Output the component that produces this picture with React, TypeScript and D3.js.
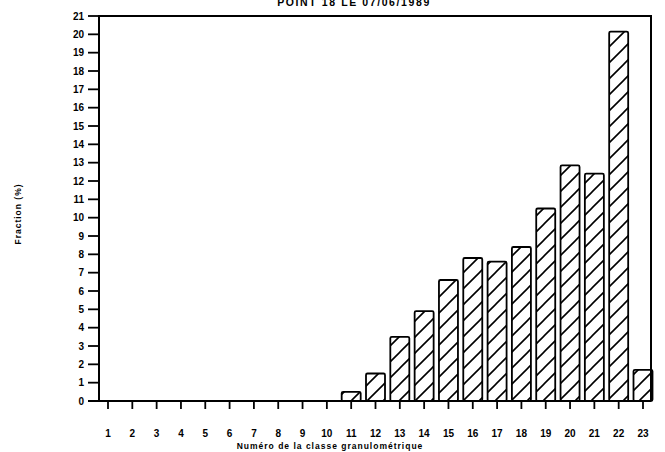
import React from "react";
import * as d3 from "d3";

// class numbers and measured fractions (%)
const classes = [1, 2, 3, 4, 5, 6, 7, 8, 9, 10, 11, 12, 13, 14, 15, 16, 17, 18, 19, 20, 21, 22, 23];
const fractions = [0, 0, 0, 0, 0, 0, 0, 0, 0, 0, 0.5, 1.5, 3.5, 4.9, 6.6, 7.8, 7.6, 8.4, 10.5, 12.85, 12.4, 20.15, 1.7];
const yTicks = [0, 1, 2, 3, 4, 5, 6, 7, 8, 9, 10, 11, 12, 13, 14, 15, 16, 17, 18, 19, 20, 21];

const title = "POINT 18 LE 07/06/1989";
const xTitle = "Numéro de la classe granulométrique";
const yTitle = "Fraction (%)";

const W = 665;
const H = 452;
const left = 99;
const right = 651;
const top = 16;
const bottom = 401;

const font = "'Liberation Sans', Arial, sans-serif";

const App: React.FC = () => {
  const x = d3.scaleLinear().domain([1, 23]).range([108, 643]);
  const y = d3.scaleLinear().domain([0, 21]).range([bottom, top]);
  const barW = 19;
  const hs = 16; // hatch spacing

  const data = classes.map((c, i) => ({ c, v: fractions[i] })).filter((d) => d.v > 0);

  return (
    <svg
      width={W}
      height={H}
      style={{ position: "absolute", left: 0, top: 0, background: "#fff" }}
      fontFamily={font}
    >
      <defs>
        <pattern id="hatch" patternUnits="userSpaceOnUse" width={hs} height={hs}>
          <path
            d={`M0,${hs} L${hs},0 M-2,2 L2,-2 M${hs - 2},${hs + 2} L${hs + 2},${hs - 2}`}
            stroke="#000"
            strokeWidth={1.6}
          />
        </pattern>
      </defs>

      {/* title (cut at the top edge) */}
      <text x={354} y={6} textAnchor="middle" fontSize={10.5} fontWeight="bold" letterSpacing={1.6}>
        {title}
      </text>

      {/* bars */}
      {data.map((d) => (
        <rect
          key={d.c}
          x={x(d.c) - barW / 2}
          y={y(d.v)}
          width={barW}
          height={y(0) - y(d.v)}
          fill="url(#hatch)"
          stroke="#000"
          strokeWidth={1.8}
          rx={1.5}
        />
      ))}

      {/* frame */}
      <path
        d={`M${left},${bottom} L${left},${top} L${right},${top} L${right},${bottom}`}
        fill="none"
        stroke="#000"
        strokeWidth={2}
      />
      <line x1={left - 11} x2={right} y1={bottom} y2={bottom} stroke="#000" strokeWidth={2} />

      {/* y ticks */}
      {yTicks.map((t) => (
        <g key={t}>
          <line x1={left - 11} x2={left} y1={y(t)} y2={y(t)} stroke="#000" strokeWidth={1.8} />
          <text
            x={left - 15}
            y={y(t)}
            dy="0.35em"
            textAnchor="end"
            fontSize={10}
            fontWeight="bold"
          >
            {t}
          </text>
        </g>
      ))}

      {/* x ticks */}
      {classes.map((c) => (
        <g key={c}>
          <line x1={x(c)} x2={x(c)} y1={bottom} y2={bottom + 8} stroke="#000" strokeWidth={1.8} />
          <text x={x(c)} y={437} textAnchor="middle" fontSize={10} fontWeight="bold">
            {c}
          </text>
        </g>
      ))}

      <text x={330} y={449} textAnchor="middle" fontSize={8.5} fontWeight="bold" letterSpacing={1}>
        {xTitle}
      </text>
      <text
        transform={`translate(21,214) rotate(-90)`}
        textAnchor="middle"
        fontSize={8.5}
        fontWeight="bold"
        letterSpacing={1}
      >
        {yTitle}
      </text>
    </svg>
  );
};

export default App;
